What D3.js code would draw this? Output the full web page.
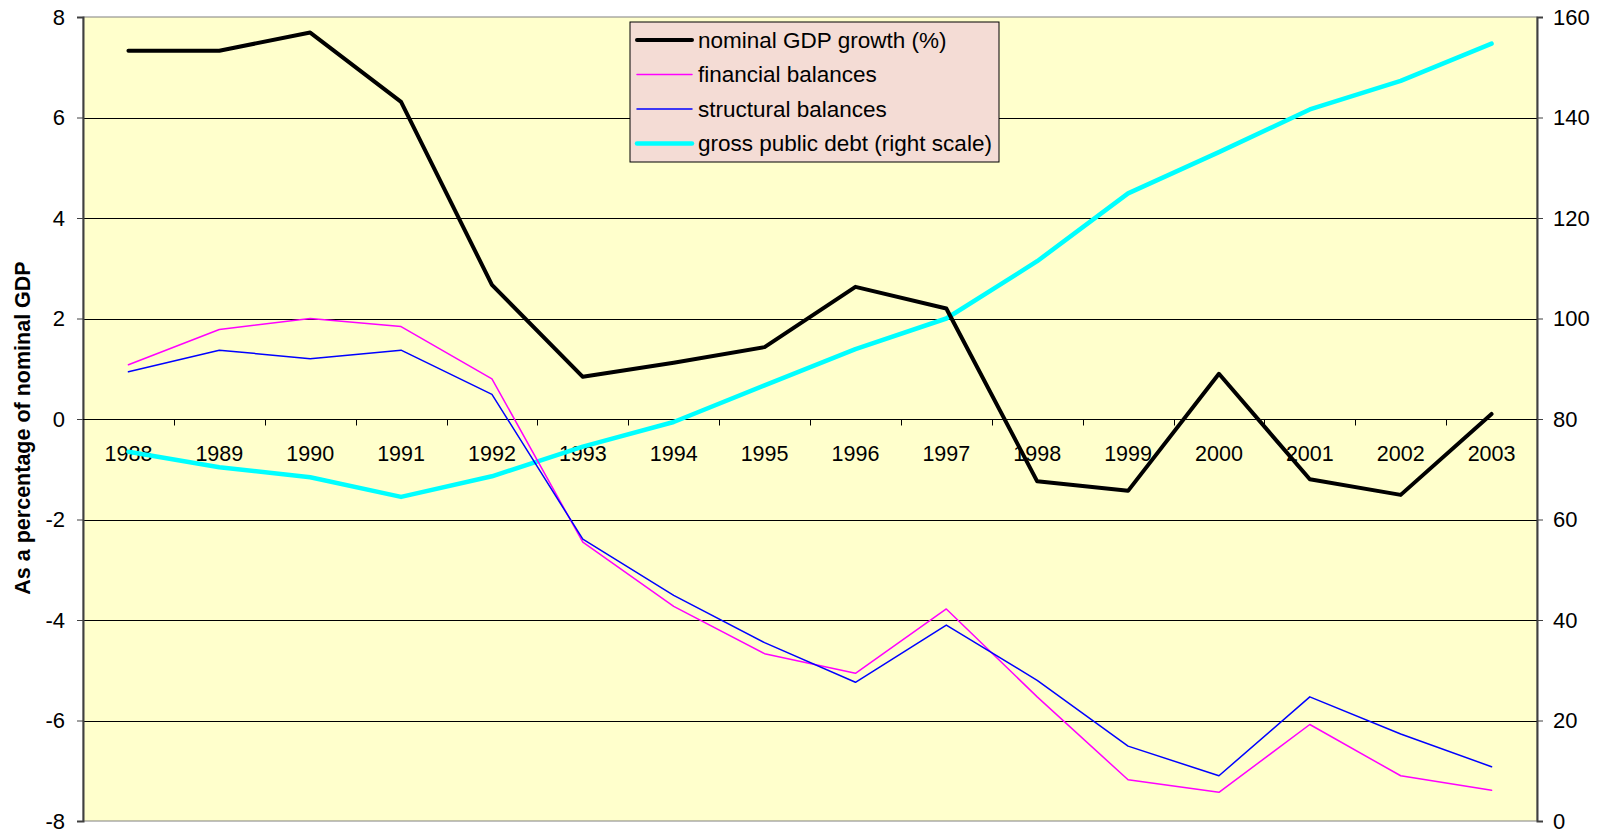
<!DOCTYPE html>
<html>
<head>
<meta charset="utf-8">
<script src="https://cdn.jsdelivr.net/npm/d3@7"></script>
<style>
body { margin: 0; background: #fff; }
svg text { font-family: "Liberation Sans", Arial, sans-serif; fill: #000; }
</style>
</head>
<body>
<div id="chart"></div>
<script>
var years = ["1988","1989","1990","1991","1992","1993","1994","1995","1996","1997","1998","1999","2000","2001","2002","2003"];
var gdpGrowth = [7.33, 7.33, 7.69, 6.31, 2.67, 0.84, 1.12, 1.43, 2.63, 2.2, -1.24, -1.43, 0.9, -1.2, -1.51, 0.1];
var financial = [1.08, 1.78, 2.0, 1.84, 0.8, -2.45, -3.73, -4.67, -5.06, -3.78, -5.53, -7.18, -7.43, -6.08, -7.1, -7.39];
var structural = [0.94, 1.37, 1.2, 1.37, 0.49, -2.39, -3.51, -4.45, -5.24, -4.1, -5.2, -6.51, -7.1, -5.53, -6.27, -6.92];
var grossDebt = [73.5, 70.4, 68.4, 64.5, 68.6, 74.5, 79.4, 86.7, 93.9, 100, 111.4, 124.9, 133.1, 141.6, 147.3, 154.7];
var leftTicks = [-8, -6, -4, -2, 0, 2, 4, 6, 8];
var rightTicks = [0, 20, 40, 60, 80, 100, 120, 140, 160];

var W = 1604, H = 833;
var margin = { left: 83, right: 67, top: 17, bottom: 12 };
var width = W - margin.left - margin.right;
var height = H - margin.top - margin.bottom;
var fontSize = "21.5px";

var svg = d3.select("#chart").append("svg")
		.attr("width", W)
		.attr("height", H)
	.append("g")
		.attr("transform", "translate(" + margin.left + "," + margin.top + ")");

var x = d3.scaleBand().domain(years).range([0, width]);
var y = d3.scaleLinear().domain([-8, 8]).range([height, 0]);
var y2 = d3.scaleLinear().domain([0, 160]).range([height, 0]);

// plot area
svg.append("rect")
	.attr("width", width)
	.attr("height", height)
	.attr("fill", "#FFFFCC")
	.attr("stroke", "#808080")
	.attr("stroke-width", 1);

// gridlines
svg.selectAll(".grid").data(leftTicks.filter(function(d){ return d !== 8 && d !== -8 && d !== 0; }))
	.enter().append("line")
		.attr("class", "grid")
		.attr("x1", 0).attr("x2", width)
		.attr("y1", function(d){ return Math.round(y(d)) + 0.5; })
		.attr("y2", function(d){ return Math.round(y(d)) + 0.5; })
		.attr("stroke", "#000")
		.attr("stroke-width", 1);

// left axis
var leftAxis = svg.append("g")
	.call(d3.axisLeft(y).tickValues(leftTicks).tickSize(6).tickPadding(12).tickFormat(function(d){ return String(d); }));
leftAxis.select(".domain").attr("stroke", "#404040").attr("stroke-width", 2);
leftAxis.selectAll(".tick line").attr("stroke", "#404040");
leftAxis.selectAll("text").style("font-size", "22px").attr("fill", "#000");

// right axis
var rightAxis = svg.append("g")
	.attr("transform", "translate(" + width + ",0)")
	.call(d3.axisRight(y2).tickValues(rightTicks).tickSize(6).tickPadding(10));
rightAxis.select(".domain").attr("stroke", "#404040").attr("stroke-width", 2);
rightAxis.selectAll(".tick line").attr("stroke", "#404040");
rightAxis.selectAll("text").style("font-size", "22px").attr("fill", "#000");

// category axis at zero
var catAxis = svg.append("g")
	.attr("transform", "translate(0," + (Math.round(y(0)) + 0.5) + ")");
catAxis.append("line")
	.attr("x1", 0).attr("x2", width)
	.attr("stroke", "#000");
catAxis.selectAll(".cat-tick").data(years.slice(1))
	.enter().append("line")
		.attr("class", "cat-tick")
		.attr("x1", function(d){ return Math.round(x(d)) + 0.5; })
		.attr("x2", function(d){ return Math.round(x(d)) + 0.5; })
		.attr("y1", 0).attr("y2", 6)
		.attr("stroke", "#000");
catAxis.selectAll(".cat-label").data(years)
	.enter().append("text")
		.attr("class", "cat-label")
		.attr("x", function(d){ return x(d) + x.bandwidth() / 2; })
		.attr("y", 41)
		.attr("text-anchor", "middle")
		.style("font-size", fontSize)
		.text(function(d){ return d; });

// y axis title
svg.append("text")
	.attr("transform", "translate(" + (22 - margin.left) + "," + (428 - margin.top) + ") rotate(-90)")
	.attr("text-anchor", "middle")
	.attr("dy", "0.35em")
	.style("font-size", fontSize)
	.style("font-weight", "bold")
	.text("As a percentage of nominal GDP");

var cx = function(d, i){ return x(years[i]) + x.bandwidth() / 2; };

var series = [
	{ name: "gross public debt (right scale)", values: grossDebt, scale: y2, color: "#00FFFF", w: 4.5 },
	{ name: "financial balances", values: financial, scale: y, color: "#FF00FF", w: 1.5 },
	{ name: "structural balances", values: structural, scale: y, color: "#0000FF", w: 1.5 },
	{ name: "nominal GDP growth (%)", values: gdpGrowth, scale: y, color: "#000000", w: 4 }
];

series.forEach(function(s){
	var line = d3.line()
		.x(cx)
		.y(function(d){ return s.scale(d); });
	svg.append("path")
		.datum(s.values)
		.attr("d", line)
		.attr("fill", "none")
		.attr("stroke", s.color)
		.attr("stroke-width", s.w)
		.attr("stroke-linejoin", "round")
		.attr("stroke-linecap", "round");
});

// legend
var legendOrder = [series[3], series[1], series[2], series[0]];
var legend = svg.append("g")
	.attr("transform", "translate(" + (630 - margin.left) + "," + (22 - margin.top) + ")");
legend.append("rect")
	.attr("width", 369)
	.attr("height", 140)
	.attr("fill", "#F4DCD5")
	.attr("stroke", "#000")
	.attr("stroke-width", 1);
legendOrder.forEach(function(s, i){
	var ly = 18 + i * 34.5;
	legend.append("line")
		.attr("x1", 7).attr("x2", 62)
		.attr("y1", ly).attr("y2", ly)
		.attr("stroke", s.color)
		.attr("stroke-width", s.w)
		.attr("stroke-linecap", "round");
	legend.append("text")
		.attr("x", 68)
		.attr("y", ly)
		.attr("dy", "0.35em")
		.style("font-size", "22.5px")
		.text(s.name);
});
</script>
</body>
</html>
